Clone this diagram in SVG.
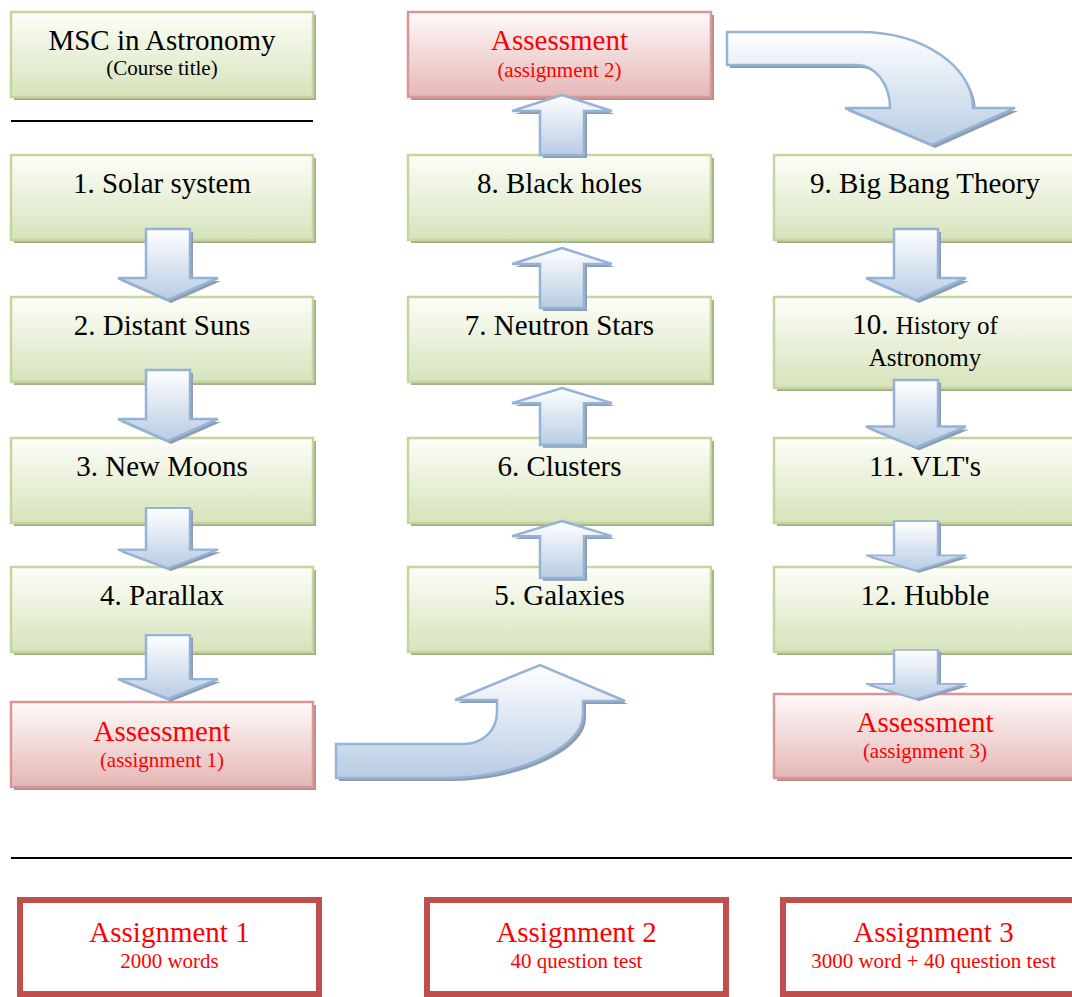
<svg xmlns="http://www.w3.org/2000/svg" width="1072" height="997" viewBox="0 0 1072 997">
<defs>
<linearGradient id="gG" x1="0" y1="0" x2="0" y2="1"><stop offset="0" stop-color="#fdfef9"/><stop offset="1" stop-color="#d6e3bb"/></linearGradient>
<linearGradient id="gP" x1="0" y1="0" x2="0" y2="1"><stop offset="0" stop-color="#fefafa"/><stop offset="1" stop-color="#e5b7b6"/></linearGradient>
<linearGradient id="gA" x1="0" y1="0" x2="0" y2="1"><stop offset="0" stop-color="#ffffff"/><stop offset="1" stop-color="#b8cce4"/></linearGradient>
<path id="dn" d="M-22,0 L22,0 L22,49 L50,49 L0,71 L-50,49 L-22,49 Z"/>
<path id="up" d="M0,0 L50,16 L22,16 L22,60 L-22,60 L-22,16 L-50,16 Z"/>
</defs>
<style>
.gb{fill:url(#gG);stroke:#c3d69b;stroke-width:2.5}
.pb{fill:url(#gP);stroke:#d99694;stroke-width:2.5}
.gs{fill:#a3ad8e}
.ps{fill:#b68e8d}
.ab{fill:url(#gA);stroke:#95b3d7;stroke-width:2.5;stroke-linejoin:miter}
.as{fill:#8f9cb0}
.rb{fill:#ffffff;stroke:#c0504d;stroke-width:6}
text{font-family:"Liberation Serif","Times New Roman",serif;text-anchor:middle}
.m{font-size:29px;fill:#000}
.s{font-size:21px;fill:#000}
.h{font-size:25px;fill:#000}
.rm{font-size:29px;fill:#ff0000}
.rs{font-size:21px;fill:#ff0000}
.ln{stroke:#000;stroke-width:2}
</style>

<g id="title">
<rect class="gs" x="14" y="15" width="302" height="85"/>
<rect class="gb" x="11" y="12" width="302" height="85"/>
<text class="m" x="162" y="50">MSC in Astronomy</text>
<text class="s" x="162" y="75">(Course title)</text>
</g>
<line class="ln" x1="11" y1="121" x2="313" y2="121"/>
<line class="ln" x1="11" y1="858" x2="1072" y2="858"/>

<g id="n1"><rect class="gs" x="14" y="158" width="302" height="85"/><rect class="gb" x="11" y="155" width="302" height="85"/><text class="m" x="162" y="193">1. Solar system</text></g>
<g id="n2"><rect class="gs" x="14" y="300" width="302" height="85"/><rect class="gb" x="11" y="297" width="302" height="85"/><text class="m" x="162" y="335">2. Distant Suns</text></g>
<g id="n3"><rect class="gs" x="14" y="441" width="302" height="85"/><rect class="gb" x="11" y="438" width="302" height="85"/><text class="m" x="162" y="476">3. New Moons</text></g>
<g id="n4"><rect class="gs" x="14" y="570" width="302" height="85"/><rect class="gb" x="11" y="567" width="302" height="85"/><text class="m" x="162" y="605">4. Parallax</text></g>
<g id="a1"><rect class="ps" x="14" y="705" width="302" height="85"/><rect class="pb" x="11" y="702" width="302" height="85"/><text class="rm" x="162" y="741">Assessment</text><text class="rs" x="162" y="767">(assignment 1)</text></g>

<g id="a2"><rect class="ps" x="411" y="15" width="303" height="85"/><rect class="pb" x="408" y="12" width="303" height="85"/><text class="rm" x="559.5" y="50">Assessment</text><text class="rs" x="559.5" y="77">(assignment 2)</text></g>
<g id="n8"><rect class="gs" x="411" y="158" width="303" height="85"/><rect class="gb" x="408" y="155" width="303" height="85"/><text class="m" x="559.5" y="193">8. Black holes</text></g>
<g id="n7"><rect class="gs" x="411" y="300" width="303" height="85"/><rect class="gb" x="408" y="297" width="303" height="85"/><text class="m" x="559.5" y="335">7. Neutron Stars</text></g>
<g id="n6"><rect class="gs" x="411" y="441" width="303" height="85"/><rect class="gb" x="408" y="438" width="303" height="85"/><text class="m" x="559.5" y="476">6. Clusters</text></g>
<g id="n5"><rect class="gs" x="411" y="570" width="303" height="85"/><rect class="gb" x="408" y="567" width="303" height="85"/><text class="m" x="559.5" y="605">5. Galaxies</text></g>

<g id="n9"><rect class="gs" x="777" y="158" width="302" height="85"/><rect class="gb" x="774" y="155" width="302" height="85"/><text class="m" x="925" y="193">9. Big Bang Theory</text></g>
<g id="n10"><rect class="gs" x="777" y="300" width="302" height="91"/><rect class="gb" x="774" y="297" width="302" height="91"/><text x="925" y="334"><tspan class="m">10. </tspan><tspan class="h">History of</tspan></text><text class="h" x="925" y="366">Astronomy</text></g>
<g id="n11"><rect class="gs" x="777" y="441" width="302" height="85"/><rect class="gb" x="774" y="438" width="302" height="85"/><text class="m" x="925" y="476">11. VLT's</text></g>
<g id="n12"><rect class="gs" x="777" y="570" width="302" height="85"/><rect class="gb" x="774" y="567" width="302" height="85"/><text class="m" x="925" y="605">12. Hubble</text></g>
<g id="a3"><rect class="ps" x="777" y="697" width="302" height="84"/><rect class="pb" x="774" y="694" width="302" height="84"/><text class="rm" x="925" y="732">Assessment</text><text class="rs" x="925" y="758">(assignment 3)</text></g>

<g id="connectors">
<g transform="translate(168,229)"><use href="#dn" class="as" transform="translate(3,3)"/><use href="#dn" class="ab"/></g>
<g transform="translate(168,370)"><use href="#dn" class="as" transform="translate(3,3)"/><use href="#dn" class="ab"/></g>
<g transform="translate(168,508) scale(1,0.85)"><use href="#dn" class="as" transform="translate(3,3)"/><use href="#dn" class="ab"/></g>
<g transform="translate(168,635) scale(1,0.9)"><use href="#dn" class="as" transform="translate(3,3)"/><use href="#dn" class="ab"/></g>
<g transform="translate(562,95)"><use href="#up" class="as" transform="translate(3,3)"/><use href="#up" class="ab"/></g>
<g transform="translate(562,248)"><use href="#up" class="as" transform="translate(3,3)"/><use href="#up" class="ab"/></g>
<g transform="translate(562,388) scale(1,0.95)"><use href="#up" class="as" transform="translate(3,3)"/><use href="#up" class="ab"/></g>
<g transform="translate(562,521) scale(1,0.95)"><use href="#up" class="as" transform="translate(3,3)"/><use href="#up" class="ab"/></g>
<g transform="translate(916,229)"><use href="#dn" class="as" transform="translate(3,3)"/><use href="#dn" class="ab"/></g>
<g transform="translate(916,380) scale(1,0.95)"><use href="#dn" class="as" transform="translate(3,3)"/><use href="#dn" class="ab"/></g>
<g transform="translate(916,521) scale(1,0.7)"><use href="#dn" class="as" transform="translate(3,3)"/><use href="#dn" class="ab"/></g>
<g transform="translate(916,650) scale(1,0.69)"><use href="#dn" class="as" transform="translate(3,3)"/><use href="#dn" class="ab"/></g>
<path class="as" transform="translate(3,3)" d="M727,32 L860,32 C922,32 973,66 973,108 L1015,108 L932,145 L845,108 L890,108 C890,84 875,65 857,65 L727,65 Z"/>
<path class="ab" d="M727,32 L860,32 C922,32 973,66 973,108 L1015,108 L932,145 L845,108 L890,108 C890,84 875,65 857,65 L727,65 Z"/>
<path class="as" transform="translate(3,3)" d="M336,744 L463,744 C482,744 497,731 497,712 L497,700 L455,700 L540,665 L625,701 L583,701 L583,715 C583,750 510,778 450,778 L336,778 Z"/>
<path class="ab" d="M336,744 L463,744 C482,744 497,731 497,712 L497,700 L455,700 L540,665 L625,701 L583,701 L583,715 C583,750 510,778 450,778 L336,778 Z"/>
</g>

<g id="b1"><rect class="rb" x="20" y="900" width="299" height="94"/><text class="rm" x="169.5" y="942">Assignment 1</text><text class="rs" x="169.5" y="968">2000 words</text></g>
<g id="b2"><rect class="rb" x="427" y="900" width="299" height="94"/><text class="rm" x="576.5" y="942">Assignment 2</text><text class="rs" x="576.5" y="968">40 question test</text></g>
<g id="b3"><rect class="rb" x="783" y="900" width="299" height="94"/><text class="rm" x="933.5" y="942">Assignment 3</text><text class="rs" x="933.5" y="968">3000 word + 40 question test</text></g>
</svg>
